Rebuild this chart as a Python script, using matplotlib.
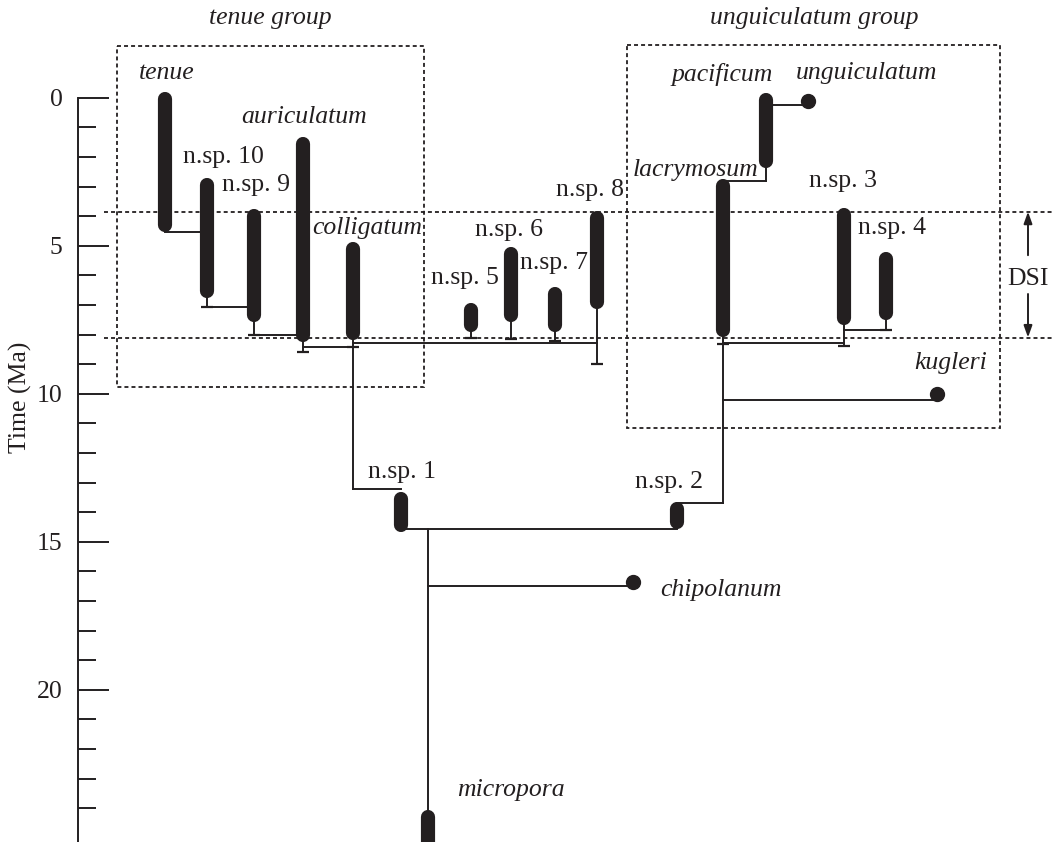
import matplotlib
matplotlib.use("Agg")
import matplotlib.pyplot as plt
from matplotlib.patches import Rectangle

INK = "#231f20"
plt.rcParams["font.family"] = ["Liberation Serif", "DejaVu Serif"]

# stratigraphic ranges (Ma), visible top / bottom of each range bar
taxa = ["tenue", "n.sp. 10", "n.sp. 9", "auriculatum", "colligatum",
        "n.sp. 5", "n.sp. 6", "n.sp. 7", "n.sp. 8",
        "lacrymosum", "pacificum", "n.sp. 3", "n.sp. 4",
        "n.sp. 1", "n.sp. 2", "micropora"]
range_top = [-0.18, 2.70, 3.76, 1.33, 4.87,
             6.95, 5.03, 6.38, 3.82,
             2.76, -0.15, 3.74, 5.20,
             13.31, 13.65, 24.06]
range_bottom = [4.53, 6.75, 7.57, 8.24, 8.19,
                7.90, 7.57, 7.90, 7.12,
                8.07, 2.38, 7.68, 7.51,
                14.66, 14.55, 26.0]
italic_taxa = {"tenue", "auriculatum", "colligatum", "lacrymosum",
               "pacificum", "micropora"}

# stems ending in a small bar below some ranges (Ma)
stem_taxa = ["n.sp. 10", "n.sp. 9", "auriculatum", "n.sp. 5", "n.sp. 6",
             "n.sp. 7", "n.sp. 8", "lacrymosum", "n.sp. 3", "n.sp. 4"]
stem_end = [7.07, 8.02, 8.60, 8.10, 8.16, 8.22, 9.00, 8.33, 8.39, 7.83]

# single-occurrence taxa (Ma)
point_taxa = ["unguiculatum", "kugleri", "chipolanum"]
point_age = [0.10, 10.00, 16.35]

# branching links: (from, to, age of horizontal link)
links = [("tenue", "n.sp. 10", 4.53),
         ("n.sp. 10", "n.sp. 9", 7.07),
         ("n.sp. 9", "auriculatum", 8.02),
         ("auriculatum", "colligatum", 8.43),
         ("colligatum", "n.sp. 8", 8.27),
         ("colligatum", "n.sp. 1", 13.20),
         ("n.sp. 1", "n.sp. 2", 14.58),
         ("micropora", "chipolanum", 16.50),
         ("n.sp. 2", "lacrymosum", 13.68),
         ("lacrymosum", "kugleri", 10.21),
         ("lacrymosum", "n.sp. 3", 8.30),
         ("n.sp. 3", "n.sp. 4", 7.83),
         ("lacrymosum", "pacificum", 2.81),
         ("pacificum", "unguiculatum", 0.25)]

# vertical connectors: (taxon column, from age, to age)
verticals = [("colligatum", 8.19, 13.20),
             ("micropora", 14.58, 24.06),
             ("lacrymosum", 8.07, 13.68),
             ("pacificum", 2.38, 2.81)]

dsi_ages = [3.85, 8.10]
group_names = ["tenue group", "unguiculatum group"]
group_top = [-1.73, -1.78]
group_bottom = [9.77, 11.17]

# ---- layout (horizontal columns in pixel units) ----
col = {"tenue": 165, "n.sp. 10": 207.3, "n.sp. 9": 254, "auriculatum": 302.7,
       "colligatum": 353.3, "n.sp. 5": 470.7, "n.sp. 6": 511, "n.sp. 7": 555,
       "n.sp. 8": 597, "lacrymosum": 723, "pacificum": 766, "n.sp. 3": 844,
       "n.sp. 4": 886, "n.sp. 1": 400.7, "n.sp. 2": 676.5, "micropora": 428.3,
       "unguiculatum": 808.3, "kugleri": 937.3, "chipolanum": 633.3}
label_pos = {"tenue": (139, -0.83), "n.sp. 10": (182.7, 1.99),
             "n.sp. 9": (221.7, 2.95), "auriculatum": (241.7, 0.64),
             "colligatum": (312.3, 4.41), "n.sp. 5": (431, 6.10),
             "n.sp. 6": (474.7, 4.47), "n.sp. 7": (519.5, 5.59),
             "n.sp. 8": (555.6, 3.12), "lacrymosum": (632.4, 2.44),
             "pacificum": (671.8, -0.77), "unguiculatum": (796, -0.82),
             "n.sp. 3": (808.7, 2.80), "n.sp. 4": (858.5, 4.41),
             "kugleri": (914.5, 8.97), "n.sp. 1": (368, 12.64),
             "n.sp. 2": (635, 12.97), "chipolanum": (660, 16.63),
             "micropora": (456.7, 23.39)}
group_x = [(116.7, 424.3), (627.4, 1000.4)]

W, H = 1052, 842
fig = plt.figure(figsize=(W / 100, H / 100), dpi=100)
ax = fig.add_axes([78 / W, 0, 1 - 78 / W, 1])
ax.set_xlim(78, W)
ax.set_ylim(25.14, -3.30)

FS = 18.5
bar_lw = 10.2
cap = 0.235  # half bar width in Ma

# range bars
for name, top, bot in zip(taxa, range_top, range_bottom):
    ax.plot([col[name]] * 2, [top + cap, bot - cap], color=INK, lw=bar_lw,
            solid_capstyle="round", zorder=3)

# stems with end bars
for name, end in zip(stem_taxa, stem_end):
    bot = range_bottom[taxa.index(name)]
    ax.plot([col[name]] * 2, [bot - cap, end], color=INK, lw=1.4, zorder=2,
            clip_on=False)
    ax.plot(col[name], end, marker="_", ms=8, mew=1.6, color=INK, zorder=2)

# horizontal links
for a, b, age in links:
    ax.plot([col[a], col[b]], [age, age], color=INK, lw=1.4, zorder=2)
ax.plot(col["colligatum"], 8.43, marker="_", ms=8, mew=1.6, color=INK)

for name, y0, y1 in verticals:
    ax.plot([col[name]] * 2, [y0, y1], color=INK, lw=1.4, zorder=2)

# point occurrences
for name, age in zip(point_taxa, point_age):
    ax.plot(col[name], age, "o", ms=10, color=INK, zorder=4)

# labels
for name, (x, y) in label_pos.items():
    italic = name in italic_taxa or name in point_taxa
    ax.text(x, y, name, fontsize=FS, style="italic" if italic else "normal",
            ha="left", va="center", color=INK)

# group boxes
dot = (0, (2.2, 1.7))
for gname, (x0, x1), t, b in zip(group_names, group_x, group_top, group_bottom):
    ax.add_patch(Rectangle((x0, t), x1 - x0, b - t, fill=False, ec=INK,
                           lw=1.3, ls=dot))
    ax.text((x0 + x1) / 2, -2.68, gname, fontsize=FS, style="italic",
            ha="center", va="center", color=INK)

# DSI interval
for age in dsi_ages:
    ax.plot([104, W], [age, age], color=INK, lw=1.3, ls=dot, zorder=1)
ax.text(1028, 6.13, "DSI", fontsize=FS, ha="center", va="center", color=INK)
arrow = dict(arrowstyle="-|>,head_length=0.7,head_width=0.25", color=INK,
             lw=1.4, shrinkA=0, shrinkB=0)
ax.annotate("", xy=(1028, dsi_ages[0]), xytext=(1028, 5.32), arrowprops=arrow)
ax.annotate("", xy=(1028, dsi_ages[1]), xytext=(1028, 6.63), arrowprops=arrow)

# time axis
for s in ["top", "right", "bottom"]:
    ax.spines[s].set_visible(False)
ax.spines["left"].set_linewidth(1.4)
ax.spines["left"].set_color(INK)
ax.spines["left"].set_bounds(0, 25.14)
ax.set_xticks([])
ax.set_yticks([0, 5, 10, 15, 20])
ax.set_yticks(range(0, 25), minor=True)
ax.tick_params(axis="y", which="major", direction="in", length=22.5,
               width=1.4, color=INK, labelsize=FS, pad=11, labelcolor=INK)
ax.tick_params(axis="y", which="minor", direction="in", length=13,
               width=1.4, color=INK)
fig.text(20 / W, 1 - 397 / H, "Time (Ma)", rotation=90, fontsize=FS,
         ha="center", va="center", color=INK)

fig.savefig("out.png", dpi=100)
